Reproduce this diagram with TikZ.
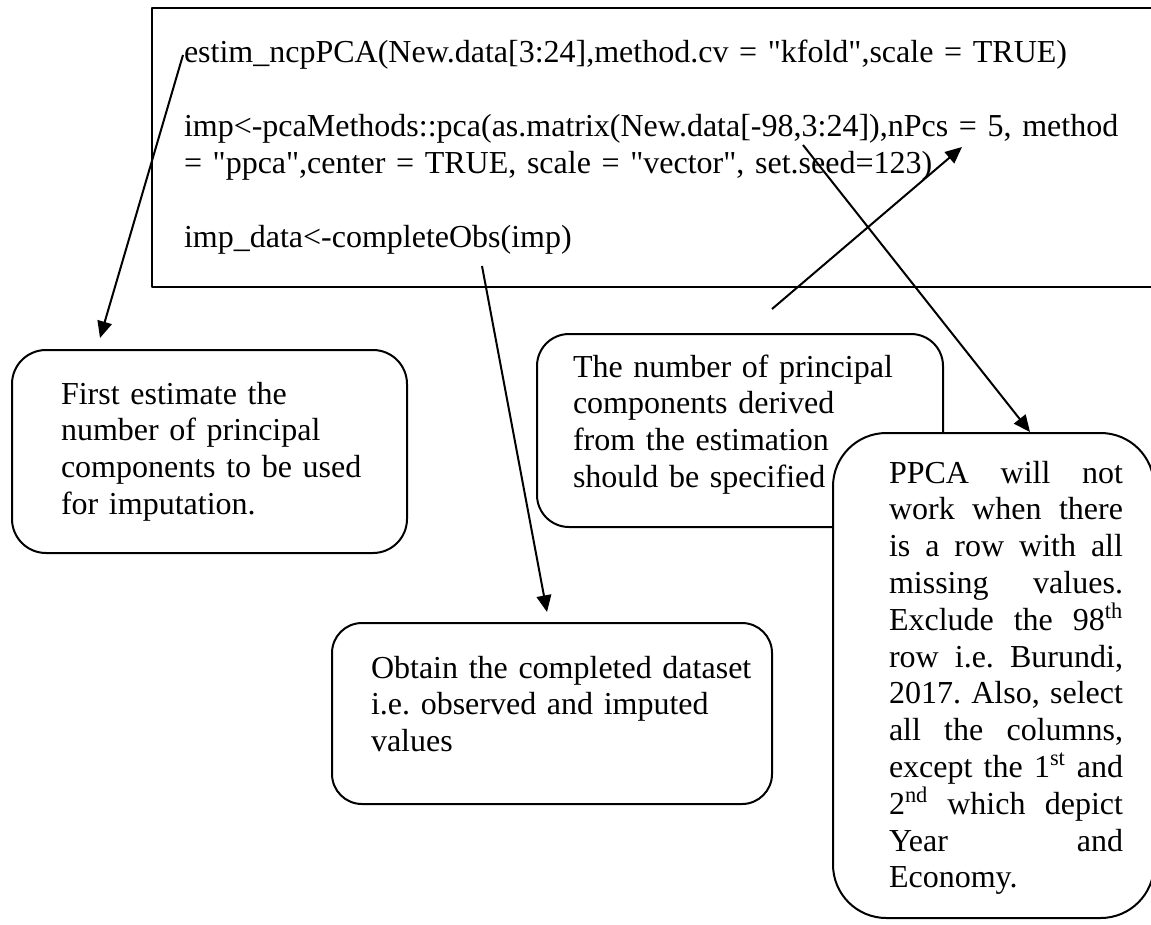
\documentclass[tikz,border=0pt]{standalone}
\usepackage{fontspec}
\setmainfont{Liberation Serif}[Ligatures=TeXOff]
\usetikzlibrary{arrows.meta}
\begin{document}
\begin{tikzpicture}[x=0.75pt,y=-0.75pt,font=\fontsize{24}{27.6}\selectfont\frenchspacing,line join=round,line width=1.5pt,>={Triangle[length=12.5pt,width=11pt]},
	box/.style={draw,line width=1.5pt},
	txt/.style={inner sep=0pt,anchor=base west,align=left}]
	\useasboundingbox (0,0) rectangle (1151,924);
	\clip (0,0) rectangle (1151,924);
	\draw[box] (152,8) rectangle (1200,287);
	\node[txt,text width=720pt] (code) at (183,63) {estim\_ncpPCA(New.data[3:24],method.cv = "kfold",scale = TRUE)\\[27.6pt]
		imp<-pcaMethods::pca(as.matrix(New.data[-98,3:24]),nPcs = 5, method\\
		= "ppca",center = TRUE, scale = "vector", set.seed=123)\\[27.6pt]
		imp\_data<-completeObs(imp)};
	\draw[box,rounded corners=25.5pt] (12,350) rectangle (407,553);
	\node[txt,text width=250pt] (first) at (60,404) {First estimate the\\ number of principal\\ components to be used\\ for imputation.};
	\draw[box,rounded corners=24pt] (537,334) rectangle (943,527);
	\node[txt,text width=250pt] (npc) at (572,377) {The number of principal\\ components derived\\ from the estimation\\ should be specified};
	\draw[box,rounded corners=22.5pt] (332,623) rectangle (772,804);
	\node[txt,text width=300pt] (obtain) at (370,678) {Obtain the completed dataset\\ i.e. observed and imputed\\ values};
	\draw[box,fill=white,rounded corners=40pt] (833,433) rectangle (1154,918);
	\node[txt,text width=175.5pt,align=justify] (ppca) at (888,483) {\hyphenpenalty=10000 PPCA will not\linebreak work when there\linebreak is a row with all\linebreak missing values.\linebreak Exclude the 98\textsuperscript{th}\linebreak row i.e. Burundi,\linebreak 2017. Also, select\linebreak all the columns,\linebreak except the 1\textsuperscript{st} and\linebreak 2\textsuperscript{nd} which depict\linebreak Year and\linebreak Economy.};
	\coordinate (ncpA) at (183,55);
	\coordinate (ncpB) at (100,338);
	\coordinate (obsA) at (482,266);
	\coordinate (obsB) at (547,612);
	\coordinate (seedA) at (803,145);
	\coordinate (seedB) at (1030,432);
	\coordinate (nA) at (772,309);
	\coordinate (nB) at (962,147);
	\draw[->] (ncpA)--(ncpB);
	\draw[->] (obsA)--(obsB);
	\draw[->] (seedA)--(seedB);
	\draw[->] (nA)--(nB);
\end{tikzpicture}
\end{document}
